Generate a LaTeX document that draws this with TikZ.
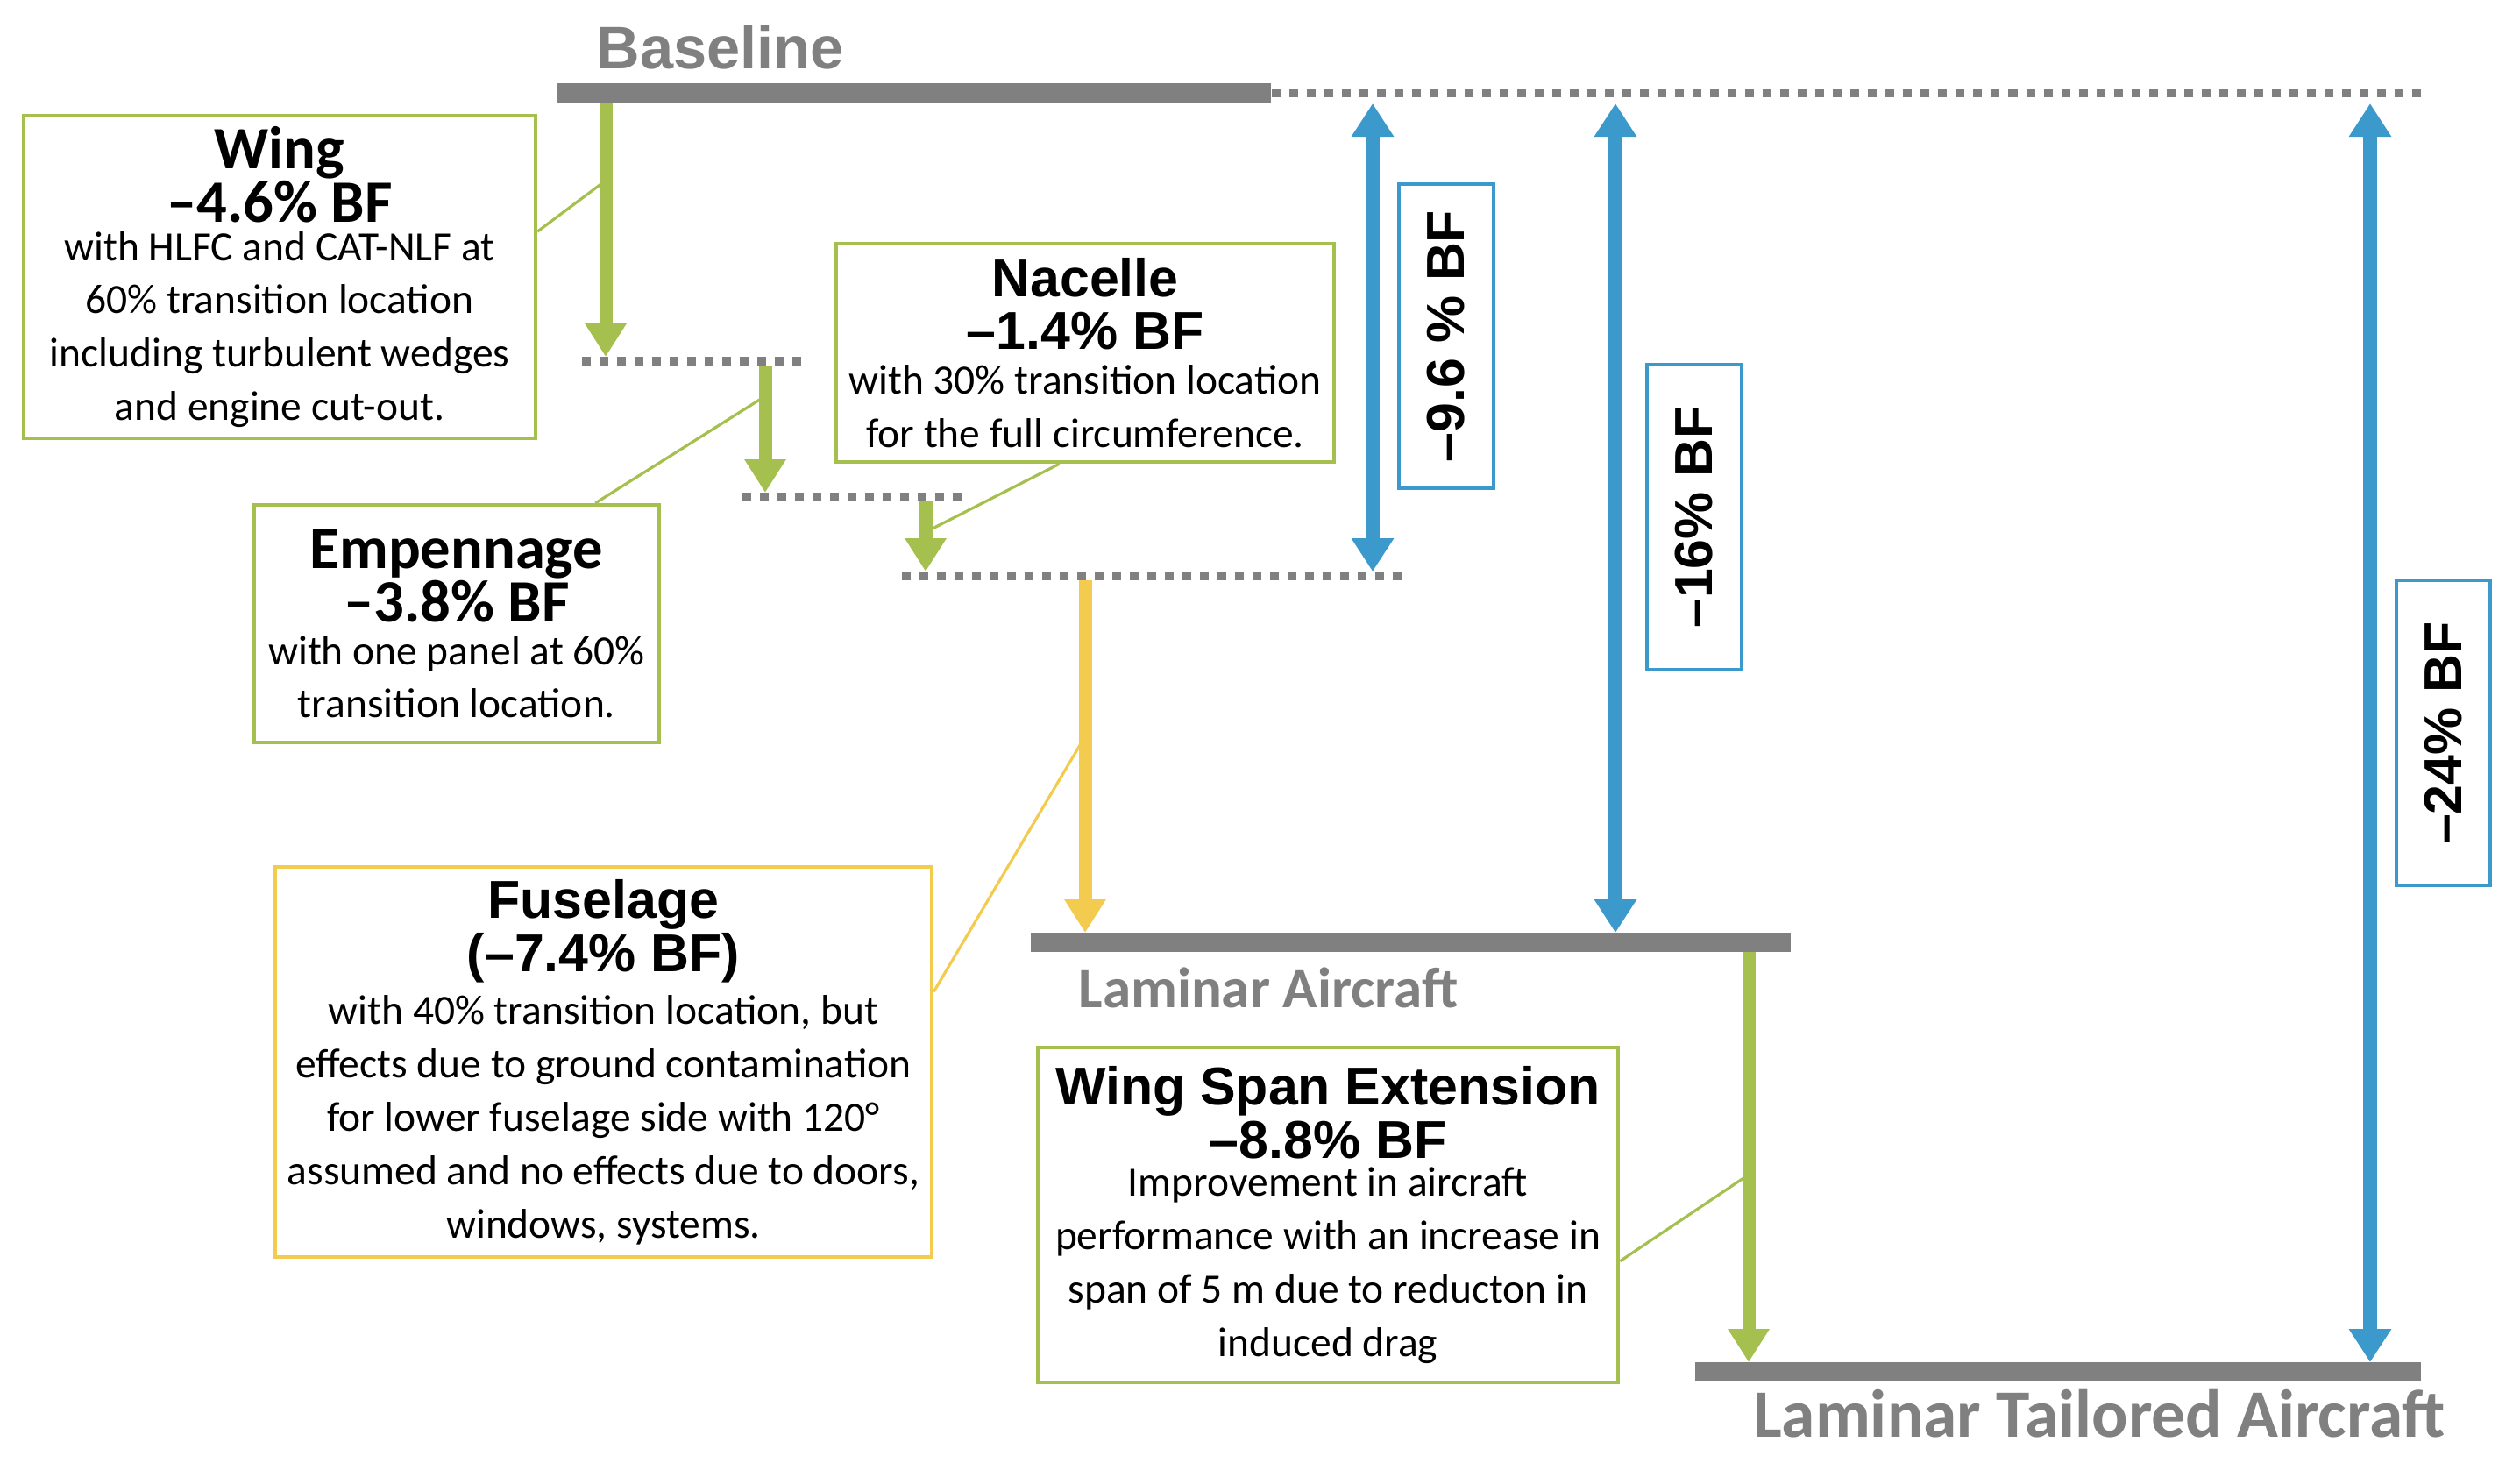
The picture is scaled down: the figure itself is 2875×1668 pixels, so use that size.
\documentclass[tikz,border=0pt]{standalone}
\usepackage{fontspec}
\setmainfont{Carlito}
\newfontfamily\arialfont{Liberation Sans}
\usetikzlibrary{arrows.meta,positioning}

\definecolor{barGray}{HTML}{808080}
\definecolor{wingGreen}{HTML}{A5C04F}
\definecolor{fusYellow}{HTML}{F2CB4F}
\definecolor{bfBlue}{HTML}{3C99CC}

\newcommand{\hdCal}{\fontsize{19.5}{17.3}\selectfont\bfseries}
\newcommand{\hdAri}{\arialfont\fontsize{17.3}{17.3}\selectfont\bfseries}

\tikzstyle{bar} = [rectangle, fill=barGray, minimum height=0.22cm, inner sep=0pt]
\tikzstyle{dotline} = [barGray, line width=0.1cm, dash pattern=on 0.1cm off 0.1cm]
\tikzstyle{info} = [rectangle, line width=0.04cm, fill=white, align=center, inner sep=0pt, font=\fontsize{13.5}{17.3}\selectfont]
\tikzstyle{result} = [rectangle, draw=bfBlue, line width=0.04cm, rotate=90, inner sep=0pt, minimum height=1.07cm, minimum width=3.47cm, font=\arialfont\fontsize{17.3}{17.3}\selectfont\bfseries]
\tikzstyle{gain} = [line width=0.15cm, -{Triangle[width=0.45cm,length=0.38cm]}]
\tikzstyle{total} = [bfBlue, line width=0.155cm, {Triangle[width=0.46cm,length=0.38cm]}-{Triangle[width=0.46cm,length=0.38cm]}]
\tikzstyle{leader} = [line width=0.032cm]
\tikzstyle{stage} = [text=barGray, font=\fontsize{18.5}{20}\selectfont\bfseries, inner sep=0pt, anchor=base]

\begin{document}
\begin{tikzpicture}[x=0.01cm, y=-0.01cm]
    \useasboundingbox (0,0) rectangle (2875,1668);
    %\draw[step=100,gray,very thin] (0,0) grid (2875,1668);

    % levels
    \node (base) [bar, minimum width=8.14cm] at (1043,106) {};
    \node (lam) [bar, minimum width=8.67cm] at (1609.5,1075) {};
    \node (lta) [bar, minimum width=8.28cm] at (2348,1565) {};
    \coordinate (topEnd) at (2763,106);
    \coordinate (l1a) at (664,412);  \coordinate (l1b) at (914,412);
    \coordinate (l2a) at (847,567);  \coordinate (l2b) at (1097,567);
    \coordinate (l3a) at (1029,657); \coordinate (l3b) at (1607,657);
    \draw [dotline] (base.east) -- (topEnd);
    \draw [dotline] (l1a) -- (l1b);
    \draw [dotline] (l2a) -- (l2b);
    \draw [dotline] (l3a) -- (l3b);

    \node (baseTxt) [stage, font=\arialfont\fontsize{19.5}{20}\selectfont\bfseries] at (822,78) {Baseline};
    \node (lamTxt) [stage] at (1447,1149) {Laminar Aircraft};
    \node (ltaTxt) [stage, font=\fontsize{22}{24}\selectfont\bfseries] at (2395,1639) {Laminar Tailored Aircraft};

    % boxes
    \node (wing) [info, draw=wingGreen, minimum width=5.84cm, minimum height=3.68cm] at (319,316)
        {{\hdCal Wing}\\ {\hdCal –4.6\% BF}\\[-4.8pt] with HLFC and CAT-NLF at\\ 60\% transition location\\ including turbulent wedges\\ and engine cut-out.};
    \node (nac) [info, draw=wingGreen, minimum width=5.68cm, minimum height=2.49cm] at (1238,402.5)
        {{\hdAri Nacelle}\\ {\hdAri –1.4\% BF}\\[-2.8pt] with 30\% transition location\\ for the full circumference.};
    \node (emp) [info, draw=wingGreen, minimum width=4.62cm, minimum height=2.71cm] at (521,711.5)
        {{\hdCal Empennage}\\ {\hdCal –3.8\% BF}\\[-3.4pt] with one panel at 60\%\\ transition location.};
    \node (fus) [info, draw=fusYellow, minimum width=7.49cm, minimum height=4.45cm] at (688.5,1211.5)
        {{\hdAri Fuselage}\\ {\hdAri (–7.4\% BF)}\\ with 40\% transition location, but\\ effects due to ground contamination\\ for lower fuselage side with 120°\\ assumed and no effects due to doors,\\ windows, systems.};
    \node (wse) [info, draw=wingGreen, minimum width=6.62cm, minimum height=3.82cm] at (1515,1386)
        {{\hdAri Wing Span Extension}\\ {\hdAri –8.8\% BF}\\[-5.1pt] Improvement in aircraft\\ performance with an increase in\\ span of 5 m due to reducton in\\ induced drag};

    % arrow ends
    \coordinate (wingA) at (691,117);  \coordinate (wingB) at (691,407);
    \coordinate (empA) at (873,417);   \coordinate (empB) at (873,562);
    \coordinate (nacA) at (1056,572);  \coordinate (nacB) at (1056,652);
    \coordinate (fusA) at (1238,662);  \coordinate (fusB) at (1238,1064);
    \coordinate (wseA) at (1995,1086); \coordinate (wseB) at (1995,1554);
    \coordinate (wingL) at (691,206);
    \coordinate (empL) at (873,452);
    \coordinate (nacL) at (1056,607);
    \coordinate (fusL) at (1238,840);
    \coordinate (wseL) at (1995,1340);

    \draw [leader, wingGreen] (wing.10) -- (wingL);
    \draw [leader, wingGreen] (emp.41) -- (empL);
    \draw [leader, wingGreen] (nac.257) -- (nacL);
    \draw [leader, fusYellow] (fus.12) -- (fusL);
    \draw [leader, wingGreen] (wse.-9) -- (wseL);

    \draw [gain, wingGreen] (wingA) -- (wingB);
    \draw [gain, wingGreen] (empA) -- (empB);
    \draw [gain, wingGreen] (nacA) -- (nacB);
    \draw [gain, fusYellow] (fusA) -- (fusB);
    \draw [gain, wingGreen] (wseA) -- (wseB);

    % totals
    \coordinate (t1a) at (1566,118); \coordinate (t1b) at (1566,652);
    \coordinate (t2a) at (1843,118); \coordinate (t2b) at (1843,1064);
    \coordinate (t3a) at (2704,118); \coordinate (t3b) at (2704,1554);
    \draw [total] (t1a) -- (t1b);
    \draw [total] (t2a) -- (t2b);
    \draw [total] (t3a) -- (t3b);
    \node (r1) [result] at (1650,383.5) {–9.6 \% BF};
    \node (r2) [result] at (1933,590) {–16\% BF};
    \node (r3) [result] at (2787.5,836) {–24\% BF};
\end{tikzpicture}
\end{document}
